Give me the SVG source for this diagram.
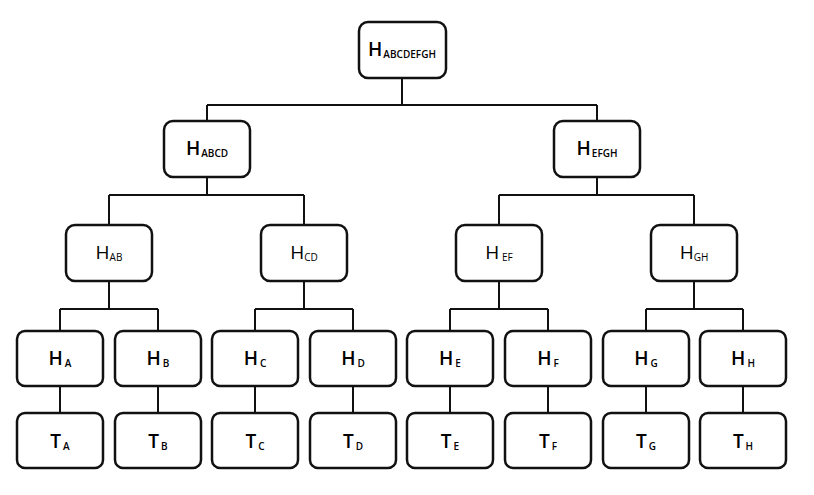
<svg xmlns="http://www.w3.org/2000/svg" width="814" height="495" viewBox="0 0 814 495">
<style>
.box{fill:#fff;stroke:#111;stroke-width:2.5;}
.ln{stroke:#111;stroke-width:2;fill:none;}
.t{font-family:"Open Sans","DejaVu Sans",sans-serif;font-size:19px;fill:#000;text-anchor:middle;font-weight:500;}
.b{font-weight:600;}
.s{font-size:10px;}
</style>
<rect width="814" height="495" fill="#fff"/>
<g id="connectors" class="ln">
<path d="M402 79V105M207 105H597M207 105V120M597 105V120"/>
<path d="M207 177V195M109 195H304M109 195V224M304 195V224"/>
<path d="M597 177V195M499 195H694M499 195V224M694 195V224"/>
<path d="M109 281V309M60 309H158M60 309V331M158 309V331"/>
<path d="M304 281V309M255 309H353M255 309V331M353 309V331"/>
<path d="M499 281V309M450 309H548M450 309V331M548 309V331"/>
<path d="M694 281V309M646 309H743M646 309V331M743 309V331"/>
<path d="M60 386V413M158 386V413M255 386V413M353 386V413M450 386V413M548 386V413M646 386V413M743 386V413"/>
</g>
<g id="n-ABCDEFGH"><rect class="box" x="359" y="22" width="87" height="56" rx="9"/><text class="t b" x="402" y="56" font-size="20">H<tspan class="s" font-size="11" dx="1" dy="2">ABCDEFGH</tspan></text></g>
<g id="n-ABCD"><rect class="box" x="164" y="121" width="86" height="56" rx="9"/><text class="t b" x="207" y="155">H<tspan class="s" dx="1" dy="2">ABCD</tspan></text></g>
<g id="n-EFGH"><rect class="box" x="554" y="121" width="86" height="56" rx="9"/><text class="t b" x="597" y="155">H<tspan class="s" dx="1" dy="2">EFGH</tspan></text></g>
<g id="n-AB"><rect class="box" x="66" y="225" width="86" height="56" rx="9"/><text class="t" x="109" y="259">H<tspan class="s" dy="2">AB</tspan></text></g>
<g id="n-CD"><rect class="box" x="261" y="225" width="86" height="56" rx="9"/><text class="t" x="304" y="259">H<tspan class="s" dy="2">CD</tspan></text></g>
<g id="n-EF"><rect class="box" x="456" y="225" width="86" height="56" rx="9"/><text class="t" x="499" y="259">H<tspan class="s" dy="2"> EF</tspan></text></g>
<g id="n-GH"><rect class="box" x="651" y="225" width="86" height="56" rx="9"/><text class="t" x="694" y="259">H<tspan class="s" dy="2">GH</tspan></text></g>
<g id="n-HA"><rect class="box" x="17" y="331" width="86" height="55" rx="8"/><text class="t b" x="60" y="365">H<tspan class="s" dx="2" dy="2">A</tspan></text></g>
<g id="n-HB"><rect class="box" x="115" y="331" width="86" height="55" rx="8"/><text class="t b" x="158" y="365">H<tspan class="s" dx="2" dy="2">B</tspan></text></g>
<g id="n-HC"><rect class="box" x="212" y="331" width="86" height="55" rx="8"/><text class="t b" x="255" y="365">H<tspan class="s" dx="2" dy="2">C</tspan></text></g>
<g id="n-HD"><rect class="box" x="310" y="331" width="86" height="55" rx="8"/><text class="t b" x="353" y="365">H<tspan class="s" dx="2" dy="2">D</tspan></text></g>
<g id="n-HE"><rect class="box" x="407" y="331" width="86" height="55" rx="8"/><text class="t b" x="450" y="365">H<tspan class="s" dx="2" dy="2">E</tspan></text></g>
<g id="n-HF"><rect class="box" x="505" y="331" width="86" height="55" rx="8"/><text class="t b" x="548" y="365">H<tspan class="s" dx="2" dy="2">F</tspan></text></g>
<g id="n-HG"><rect class="box" x="603" y="331" width="86" height="55" rx="8"/><text class="t b" x="646" y="365">H<tspan class="s" dx="2" dy="2">G</tspan></text></g>
<g id="n-HH"><rect class="box" x="700" y="331" width="86" height="55" rx="8"/><text class="t b" x="743" y="365">H<tspan class="s" dx="2" dy="2">H</tspan></text></g>
<g id="n-TA"><rect class="box" x="17" y="413" width="86" height="55" rx="8"/><text class="t b" x="60" y="448">T<tspan class="s" dx="2" dy="2">A</tspan></text></g>
<g id="n-TB"><rect class="box" x="115" y="413" width="86" height="55" rx="8"/><text class="t b" x="158" y="448">T<tspan class="s" dx="2" dy="2">B</tspan></text></g>
<g id="n-TC"><rect class="box" x="212" y="413" width="86" height="55" rx="8"/><text class="t b" x="255" y="448">T<tspan class="s" dx="2" dy="2">C</tspan></text></g>
<g id="n-TD"><rect class="box" x="310" y="413" width="86" height="55" rx="8"/><text class="t b" x="353" y="448">T<tspan class="s" dx="2" dy="2">D</tspan></text></g>
<g id="n-TE"><rect class="box" x="407" y="413" width="86" height="55" rx="8"/><text class="t b" x="450" y="448">T<tspan class="s" dx="2" dy="2">E</tspan></text></g>
<g id="n-TF"><rect class="box" x="505" y="413" width="86" height="55" rx="8"/><text class="t b" x="548" y="448">T<tspan class="s" dx="2" dy="2">F</tspan></text></g>
<g id="n-TG"><rect class="box" x="603" y="413" width="86" height="55" rx="8"/><text class="t b" x="646" y="448">T<tspan class="s" dx="2" dy="2">G</tspan></text></g>
<g id="n-TH"><rect class="box" x="700" y="413" width="86" height="55" rx="8"/><text class="t b" x="743" y="448">T<tspan class="s" dx="2" dy="2">H</tspan></text></g>
</svg>
